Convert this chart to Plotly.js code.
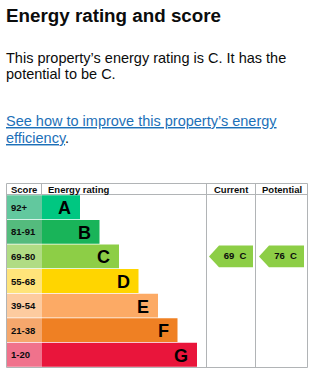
<!DOCTYPE html>
<html>
<head>
<meta charset="utf-8">
<script src="https://cdn.plot.ly/plotly-3.0.1.min.js"></script>
<style>html,body{margin:0;padding:0;background:#fff;}#chart{width:311px;height:372px;}</style>
</head>
<body>
<div id="chart"></div>
<script>
// ---- data ----
const bands = ['A', 'B', 'C', 'D', 'E', 'F', 'G'];
const scoreRanges = ['92+', '81-91', '69-80', '55-68', '39-54', '21-38', '1-20'];
const bandMinScore = [92, 81, 69, 55, 39, 21, 1];
const columnHeaders = ['Score', 'Energy rating', 'Current', 'Potential'];
const currentScore = 69;
const potentialScore = 76;
const titleText = 'Energy rating and score';
const introLines = ['This property\u2019s energy rating is C. It has the', 'potential to be C.'];
const linkLines = ['See how to improve this property\u2019s energy', 'efficiency'];

// ---- styles ----
const bandColors = ['#00c781', '#19b459', '#8dce46', '#ffd500', '#fcaa65', '#ef8023', '#e9153b'];
const scoreCellColors = ['#62c89e', '#54bb7d', '#b0dc84', '#ffe47a', '#fdcb9f', '#f5a76c', '#f0728c'];
const FONT = 'Liberation Sans, Arial, Helvetica, sans-serif';
const TEXT = '#0b0c0c';
const LINK = '#1d70b8';
const GRID = '#b1b4b6';

// ---- geometry (px) ----
const W = 311, H = 372;
const tableLeft = 6, scoreRight = 42, ratingRight = 206, currentRight = 256, tableRight = 307;
const headerTop = 183, rowTop = 195, rowBottom = 367;
const firstBarLen = 38, barStep = 19.5;
const padFix = 2; // annotation internal padding
const py = v => 1 - v / H;

const idx = bands.map((b, i) => i);
const bandOf = s => bandMinScore.findIndex(m => s >= m);

const traces = [];
// score cells
traces.push({
  type: 'bar', orientation: 'h', y: idx, x: idx.map(() => scoreRight - tableLeft), base: tableLeft,
  width: 0.97, marker: {color: scoreCellColors, line: {width: 0}}, hoverinfo: 'skip', showlegend: false
});
// rating bars
traces.push({
  type: 'bar', orientation: 'h', y: idx, x: idx.map(i => firstBarLen + barStep * i), base: scoreRight,
  width: 0.97, marker: {color: bandColors, line: {width: 0}}, hoverinfo: 'skip', showlegend: false
});
// arrows
function arrow(score, colL, colR) {
  const b = bandOf(score);
  const l = colL + 3, r = colR - 3, tip = 10, h = 0.44;
  return [{
    type: 'scatter', mode: 'lines', fill: 'toself', fillcolor: bandColors[b],
    x: [l, l + tip, r, r, l + tip, l], y: [b, b - h, b - h, b + h, b + h, b],
    line: {width: 0, color: bandColors[b]}, hoverinfo: 'skip', showlegend: false
  }, {
    type: 'scatter', mode: 'text', x: [(l + tip + r) / 2 - 1], y: [b],
    text: ['<b>' + score + '\u00a0\u00a0' + bands[b] + '</b>'],
    textfont: {family: FONT, size: 9.5, color: TEXT}, textposition: 'middle center',
    hoverinfo: 'skip', showlegend: false
  }];
}
traces.push(...arrow(currentScore, ratingRight, currentRight));
traces.push(...arrow(potentialScore, currentRight, tableRight));

const ann = [];
const leftX = (tableLeft - padFix) / W;
ann.push({xref: 'paper', yref: 'paper', x: leftX, y: py(16), xanchor: 'left', yanchor: 'middle',
  text: '<b>' + titleText + '</b>', showarrow: false, font: {family: FONT, size: 18.8, color: TEXT}});
introLines.forEach((t, k) => ann.push({xref: 'paper', yref: 'paper', x: leftX, y: py(58 + 16.5 * k),
  xanchor: 'left', yanchor: 'middle', text: t, showarrow: false, font: {family: FONT, size: 14.5, color: TEXT}}));
ann.push({xref: 'paper', yref: 'paper', x: leftX, y: py(121), xanchor: 'left', yanchor: 'middle',
  text: '<span style="text-decoration:underline">' + linkLines[0] + '</span>', showarrow: false,
  font: {family: FONT, size: 14.5, color: LINK}});
ann.push({xref: 'paper', yref: 'paper', x: leftX, y: py(137.5), xanchor: 'left', yanchor: 'middle',
  text: '<span style="color:' + LINK + ';text-decoration:underline">' + linkLines[1] + '</span>.', showarrow: false,
  font: {family: FONT, size: 14.5, color: TEXT}});
// headers
const headerX = [tableLeft + 5 - padFix, scoreRight + 6 - padFix, (ratingRight + currentRight) / 2, (currentRight + tableRight) / 2];
const headerAnchors = ['left', 'left', 'center', 'center'];
columnHeaders.forEach((t, k) => ann.push({xref: 'x', yref: 'paper', x: headerX[k], y: py((headerTop + rowTop) / 2 + 0.5),
  xanchor: headerAnchors[k], yanchor: 'middle', text: '<b>' + t + '</b>', showarrow: false,
  font: {family: FONT, size: 9.5, color: TEXT}}));
// score labels & letters
idx.forEach(i => {
  ann.push({xref: 'x', yref: 'y', x: tableLeft + 5 - padFix, y: i, xanchor: 'left', yanchor: 'middle',
    text: '<b>' + scoreRanges[i] + '</b>', showarrow: false, font: {family: FONT, size: 9.5, color: TEXT}});
  ann.push({xref: 'x', yref: 'y', x: scoreRight + firstBarLen + barStep * i - 7, y: i + 0.04, xanchor: 'right', yanchor: 'middle',
    text: '<b>' + bands[i] + '</b>', showarrow: false, font: {family: FONT, size: 18, color: '#000'}});
});

const ln = (x0, y0, x1, y1) => ({type: 'line', xref: 'x', yref: 'paper', x0, x1, y0: py(y0), y1: py(y1),
  line: {color: GRID, width: 1}, layer: 'above'});
const shapes = [
  ln(tableLeft + 0.5, headerTop + 0.5, tableRight + 0.5, headerTop + 0.5),
  ln(tableLeft + 0.5, rowTop - 0.5, tableRight + 0.5, rowTop - 0.5),
  ln(tableLeft + 0.5, rowBottom + 0.5, tableRight + 0.5, rowBottom + 0.5),
  ln(tableLeft + 0.5, headerTop + 0.5, tableLeft + 0.5, rowBottom + 0.5),
  ln(scoreRight - 0.5, headerTop + 0.5, scoreRight - 0.5, rowTop - 0.5),
  ln(ratingRight + 0.5, headerTop + 0.5, ratingRight + 0.5, rowBottom + 0.5),
  ln(currentRight - 0.5, headerTop + 0.5, currentRight - 0.5, rowBottom + 0.5),
  ln(tableRight + 0.5, headerTop + 0.5, tableRight + 0.5, rowBottom + 0.5)
];

const layout = {
  width: W, height: H, margin: {l: 0, r: 0, t: 0, b: 0}, paper_bgcolor: '#fff', plot_bgcolor: 'rgba(0,0,0,0)',
  showlegend: false, barmode: 'overlay',
  xaxis: {range: [0, W], domain: [0, 1], visible: false, fixedrange: true},
  yaxis: {range: [6.5, -0.5], domain: [py(rowBottom), py(rowTop)], visible: false, fixedrange: true},
  annotations: ann, shapes: shapes, font: {family: FONT}
};
Plotly.newPlot('chart', traces, layout, {staticPlot: true, displayModeBar: false});
</script>
</body>
</html>
